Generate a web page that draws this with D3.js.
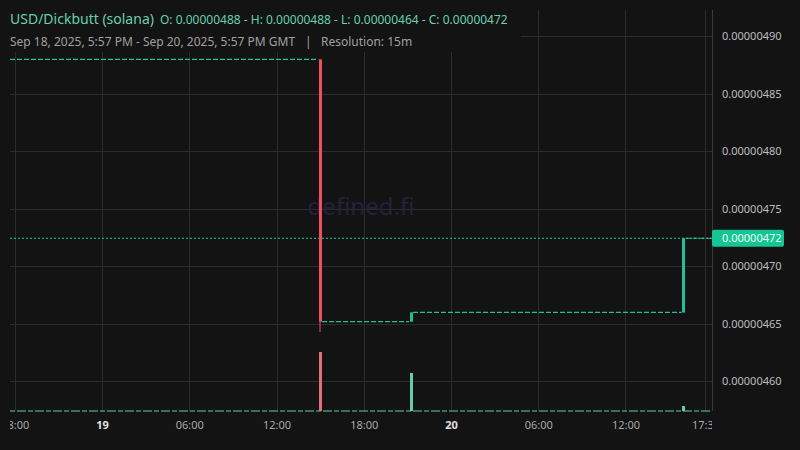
<!DOCTYPE html>
<html><head><meta charset="utf-8">
<script src="https://cdn.jsdelivr.net/npm/d3@7"></script>
<style>
html,body{margin:0;padding:0;background:#131313;}
svg{display:block;font-family:"Noto Sans",sans-serif;}
</style></head>
<body>
<svg id="c" width="800" height="450"></svg>
<script>
// ---- data ----
const pairTitle = "USD/Dickbutt (solana)";
const rangeText = "Sep 18, 2025, 5:57 PM - Sep 20, 2025, 5:57 PM GMT";
const resolutionText = "Resolution: 15m";
const candleTimes = ["2025-09-19T15:00Z", "2025-09-19T21:15Z", "2025-09-20T16:00Z"];
const opens  = [4.88e-6, 4.652e-6, 4.66e-6];
const highs  = [4.88e-6, 4.66e-6, 4.7245e-6];
const lows   = [4.643e-6, 4.652e-6, 4.66e-6];
const closes = [4.652e-6, 4.66e-6, 4.7245e-6];
const volumes = [590, 380, 50];
// flat (no-trade) stretches: start, end, price
const flatStarts = ["2025-09-18T17:40Z", "2025-09-19T15:08Z", "2025-09-19T21:23Z", "2025-09-20T16:08Z"];
const flatEnds   = ["2025-09-19T14:52Z", "2025-09-19T21:07Z", "2025-09-20T15:52Z", "2025-09-20T17:57Z"];
const flatPrices = [4.88e-6, 4.652e-6, 4.66e-6, 4.7245e-6];
const priceTicks = [4.60e-6, 4.65e-6, 4.70e-6, 4.75e-6, 4.80e-6, 4.85e-6, 4.90e-6];
const timeTicks = ["2025-09-18T18:00Z","2025-09-19T00:00Z","2025-09-19T06:00Z","2025-09-19T12:00Z","2025-09-19T18:00Z","2025-09-20T00:00Z","2025-09-20T06:00Z","2025-09-20T12:00Z","2025-09-20T17:30Z"];
const timeTickLabels = ["18:00","19","06:00","12:00","18:00","20","06:00","12:00","17:30"];
const dayTicks = ["19","20"];
const xDomain = ["2025-09-18T17:40Z", "2025-09-20T17:57Z"];
const yDomain = [4.5743e-6, 4.9230e-6];

// ---- layout ----
const L = 10, R = 712, T = 10, B = 411;
const BG = "#131313", GRID = "#2c2c2c";
const UP = "#20c198", DOWN = "#f0505c", UPV = "#62cdaa", DOWNV = "#e46c7b";
const svg = d3.select("#c");
svg.append("rect").attr("width",800).attr("height",450).attr("fill",BG);

const x = d3.scaleUtc().domain(xDomain.map(d=>new Date(d))).range([L, R]);
const y = d3.scaleLinear().domain(yDomain).range([B, T]);
const v = d3.scaleLinear().domain([0, d3.max(volumes)]).range([B, B-59]);

svg.append("defs").append("clipPath").attr("id","plotclip")
  .append("rect").attr("x",L).attr("y",0).attr("width",R-L).attr("height",450);

// grid
const vis = priceTicks.filter(p => y(p) >= T && y(p) <= B);
svg.append("g").selectAll("line").data(vis).join("line")
  .attr("x1",L).attr("x2",R).attr("y1",d=>Math.round(y(d))+0.5).attr("y2",d=>Math.round(y(d))+0.5)
  .attr("stroke",GRID).attr("stroke-width",1);
svg.append("g").selectAll("line").data(timeTicks).join("line")
  .attr("x1",d=>Math.round(x(new Date(d)))+0.5).attr("x2",d=>Math.round(x(new Date(d)))+0.5)
  .attr("y1",T).attr("y2",B).attr("stroke",GRID).attr("stroke-width",1);

// watermark
svg.append("text").attr("x",361).attr("y",215).attr("text-anchor","middle")
  .attr("font-size",24).attr("fill","#23213c").text("defined.fi");

// right axis line
svg.append("line").attr("x1",R+0.5).attr("x2",R+0.5).attr("y1",T).attr("y2",B)
  .attr("stroke","#3a3a3a");

// volume baseline (near-zero volume for quiet candles)
svg.append("line").attr("x1",L).attr("x2",R).attr("y1",v(0)).attr("y2",v(0))
  .attr("stroke",UPV).attr("stroke-width",1.2).attr("stroke-dasharray","5,2,9,2");

// volume bars
const ct = candleTimes.map(d=>new Date(d));
const w = 3;
svg.append("g").selectAll("rect").data(ct).join("rect")
  .attr("x",(d)=>Math.round(x(d)-w/2)).attr("width",w)
  .attr("y",(d,i)=>v(volumes[i])).attr("height",(d,i)=>v(0)-v(volumes[i]))
  .attr("fill",(d,i)=>closes[i]>=opens[i]?UPV:DOWNV);

// flat stretches
svg.append("g").selectAll("line").data(flatPrices).join("line")
  .attr("x1",(d,i)=>x(new Date(flatStarts[i]))).attr("x2",(d,i)=>x(new Date(flatEnds[i])))
  .attr("y1",d=>y(d)).attr("y2",d=>y(d))
  .attr("stroke",UP).attr("stroke-width",1.2).attr("stroke-dasharray","5,2");

// last price line
const last = closes[closes.length-1];
svg.append("line").attr("x1",L).attr("x2",R).attr("y1",y(last)).attr("y2",y(last))
  .attr("stroke","#1fd0a0").attr("stroke-width",1).attr("stroke-dasharray","2,2");

// candles
const cg = svg.append("g");
cg.selectAll("line").data(ct).join("line")
  .attr("x1",d=>Math.round(x(d))).attr("x2",d=>Math.round(x(d)))
  .attr("y1",(d,i)=>y(highs[i])).attr("y2",(d,i)=>y(lows[i]))
  .attr("stroke",(d,i)=>closes[i]>=opens[i]?UP:DOWN).attr("stroke-width",1);
cg.selectAll("rect").data(ct).join("rect")
  .attr("x",d=>Math.round(x(d)-w/2)).attr("width",w)
  .attr("y",(d,i)=>y(Math.max(opens[i],closes[i])))
  .attr("height",(d,i)=>Math.max(1,Math.abs(y(opens[i])-y(closes[i]))))
  .attr("fill",(d,i)=>closes[i]>=opens[i]?UP:DOWN);

// header box
svg.append("rect").attr("x",0).attr("y",0).attr("width",521).attr("height",52).attr("fill",BG);
const h = svg.append("text").attr("x",10).attr("y",24).attr("fill","#67d0ad");
h.append("tspan").attr("font-size",14).text(pairTitle);
const fmt = p => p.toFixed(8);
h.append("tspan").attr("font-size",12).attr("dx",6)
  .text(`O: ${fmt(opens[0])} - H: ${fmt(d3.max(highs))} - L: ${fmt(d3.min(lows))} - C: ${fmt(last)}`);
const s = svg.append("text").attr("x",10).attr("y",46).attr("font-size",12).attr("fill","#a0a0a0");
s.append("tspan").text(rangeText);
s.append("tspan").attr("x",305).text("|");
s.append("tspan").attr("x",321).text(resolutionText);

// y axis
const ya = d3.axisRight(y).tickValues(vis).tickFormat(fmt).tickSize(0).tickPadding(10);
const yg = svg.append("g").attr("transform",`translate(${R},0)`).call(ya);
yg.select(".domain").remove();
yg.selectAll("text").attr("fill","#bdbdbd").attr("font-size",11).attr("font-family","Noto Sans");

// price label
svg.append("rect").attr("x",R).attr("y",y(last)-8.5).attr("width",72).attr("height",17).attr("rx",2).attr("fill","#14c693");
svg.append("text").attr("x",R+10).attr("y",y(last)).attr("dy","0.35em").attr("font-size",11)
  .attr("fill","#f0fff8").text(fmt(last));

// x axis
const xa = d3.axisBottom(x).tickValues(timeTicks.map(d=>new Date(d)))
  .tickFormat((d,i)=>timeTickLabels[i]).tickSize(0).tickPadding(10);
const xg = svg.append("g").attr("transform",`translate(0,${B})`).attr("clip-path","url(#plotclip)").call(xa);
xg.select(".domain").remove();
xg.selectAll("text").attr("font-size",11).attr("font-family","Noto Sans")
  .attr("fill",(d,i)=>dayTicks.includes(timeTickLabels[i])?"#e0e0e0":"#a8a8a8")
  .attr("font-weight",(d,i)=>dayTicks.includes(timeTickLabels[i])?"bold":"normal");
</script>
</body></html>
